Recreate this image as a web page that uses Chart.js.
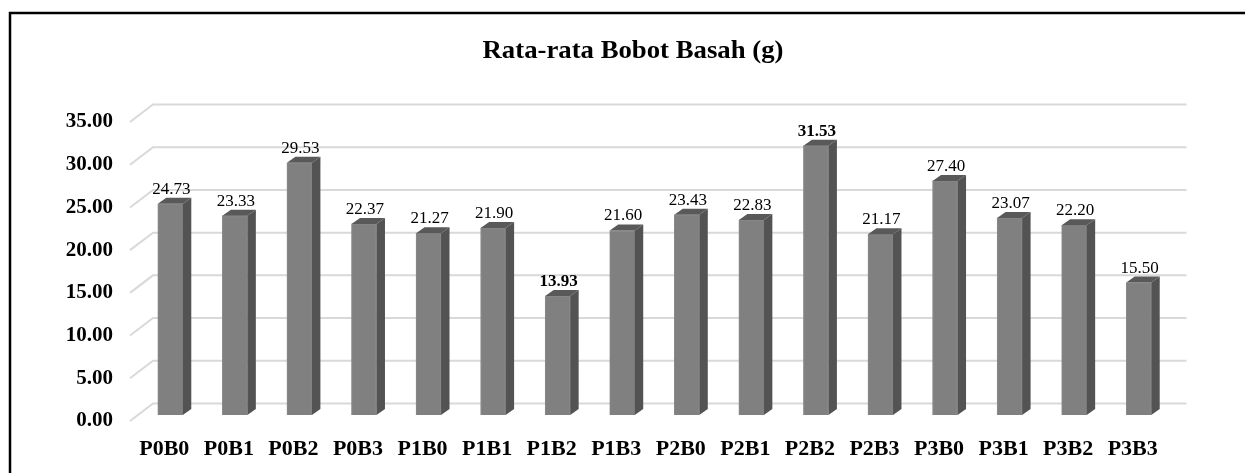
<!DOCTYPE html>
<html lang="id">
<head>
<meta charset="UTF-8">
<title>Rata-rata Bobot Basah</title>
<script src="https://cdn.jsdelivr.net/npm/chart.js"></script>
<style>
  html, body { margin: 0; padding: 0; background: #fff; }
  #wrap { width: 1245px; height: 473px; }
</style>
</head>
<body>
<div id="wrap"><canvas id="grafik"></canvas></div>
<script>
// data
const perlakuan = ['P0B0', 'P0B1', 'P0B2', 'P0B3', 'P1B0', 'P1B1', 'P1B2', 'P1B3',
                   'P2B0', 'P2B1', 'P2B2', 'P2B3', 'P3B0', 'P3B1', 'P3B2', 'P3B3'];
const bobotBasah = [24.73, 23.33, 29.53, 22.37, 21.27, 21.90, 13.93, 21.60,
                    23.43, 22.83, 31.53, 21.17, 27.40, 23.07, 22.20, 15.50];
const nilaiTebal = ['P1B2', 'P2B2']; // label nilai yang dicetak tebal
const judul = 'Rata-rata Bobot Basah (g)';

const SERIF = "'Liberation Serif', 'Times New Roman', serif";

// efek 3D ala Excel: dinding belakang, grid miring, sisi & atas batang
const efek3d = {
  id: 'efek3d',
  beforeDraw(chart) {
    const ctx = chart.ctx;
    ctx.save();
    ctx.fillStyle = '#fff';
    ctx.fillRect(0, 0, chart.width, chart.height);
    // bingkai (hanya kiri & atas terlihat)
    ctx.strokeStyle = '#000';
    ctx.lineWidth = 2.5;
    ctx.beginPath();
    ctx.moveTo(10, chart.height + 5);
    ctx.lineTo(10, 13);
    ctx.lineTo(chart.width + 5, 13);
    ctx.stroke();

    // judul
    ctx.fillStyle = '#000';
    ctx.font = 'bold 25px ' + SERIF;
    ctx.textAlign = 'center';
    ctx.textBaseline = 'alphabetic';
    ctx.translate(633, 58);
    ctx.scale(1.07, 1);
    ctx.fillText(judul, 0, 0);
    ctx.restore();
  },
  beforeDatasetsDraw(chart) {
    const ctx = chart.ctx;
    const y = chart.scales.y;
    const area = chart.chartArea;
    ctx.save();
    ctx.strokeStyle = '#d9d9d9';
    ctx.lineWidth = 2;
    y.ticks.forEach(t => {
      const py = y.getPixelForValue(t.value);
      ctx.beginPath();
      ctx.moveTo(area.left - 8, py + 6);
      ctx.lineTo(area.left + 15, py - 11.5);
      ctx.lineTo(area.right + 15.5, py - 11.5);
      ctx.stroke();
    });
    ctx.restore();
  },
  afterDatasetsDraw(chart) {
    const ctx = chart.ctx;
    const meta = chart.getDatasetMeta(0);
    const dx = 8.5, dy = 6;
    ctx.save();
    meta.data.forEach((bar, i) => {
      const half = bar.width / 2;
      const l = bar.x - half, r = bar.x + half;
      const top = bar.y, bot = bar.base;
      // sisi kanan
      ctx.fillStyle = '#535353';
      ctx.beginPath();
      ctx.moveTo(r, top);
      ctx.lineTo(r + dx, top - dy);
      ctx.lineTo(r + dx, bot - dy);
      ctx.lineTo(r, bot);
      ctx.closePath();
      ctx.fill();
      // atas
      ctx.fillStyle = '#595959';
      ctx.beginPath();
      ctx.moveTo(l, top);
      ctx.lineTo(l + dx, top - dy);
      ctx.lineTo(r + dx, top - dy);
      ctx.lineTo(r, top);
      ctx.closePath();
      ctx.fill();

      // label nilai
      const tebal = nilaiTebal.includes(perlakuan[i]);
      ctx.fillStyle = '#000';
      ctx.font = (tebal ? 'bold ' : '') + '17px ' + SERIF;
      ctx.textAlign = 'center';
      ctx.textBaseline = 'alphabetic';
      ctx.fillText(bobotBasah[i].toFixed(2), bar.x + 1, top - 10);
    });
    ctx.restore();
  }
};

new Chart(document.getElementById('grafik'), {
  type: 'bar',
  data: {
    labels: perlakuan,
    datasets: [{
      label: 'Bobot Basah',
      data: bobotBasah,
      backgroundColor: '#808080',
      borderColor: '#8a8a8a',
      borderWidth: 1,
      barThickness: 25
    }]
  },
  options: {
    responsive: true,
    maintainAspectRatio: false,
    animation: false,
    layout: { padding: { top: 116, right: 74, left: 0, bottom: 0 } },
    plugins: {
      legend: { display: false },
      tooltip: { enabled: false }
    },
    scales: {
      x: {
        grid: { display: false },
        border: { display: false },
        ticks: {
          color: '#000',
          font: { family: SERIF, size: 22, weight: 'bold' },
          labelOffset: -6,
          padding: 13,
          maxRotation: 0,
          autoSkip: false
        },
        afterFit(s) { s.height = 58; }
      },
      y: {
        min: 0,
        max: 35,
        grid: { display: false },
        border: { display: false },
        ticks: {
          stepSize: 5,
          color: '#000',
          font: { family: SERIF, size: 21, weight: 'bold' },
          padding: 17,
          labelOffset: 6,
          callback: v => v.toFixed(2)
        },
        afterFit(s) { s.width = 138; }
      }
    }
  },
  plugins: [efek3d]
});
</script>
</body>
</html>
